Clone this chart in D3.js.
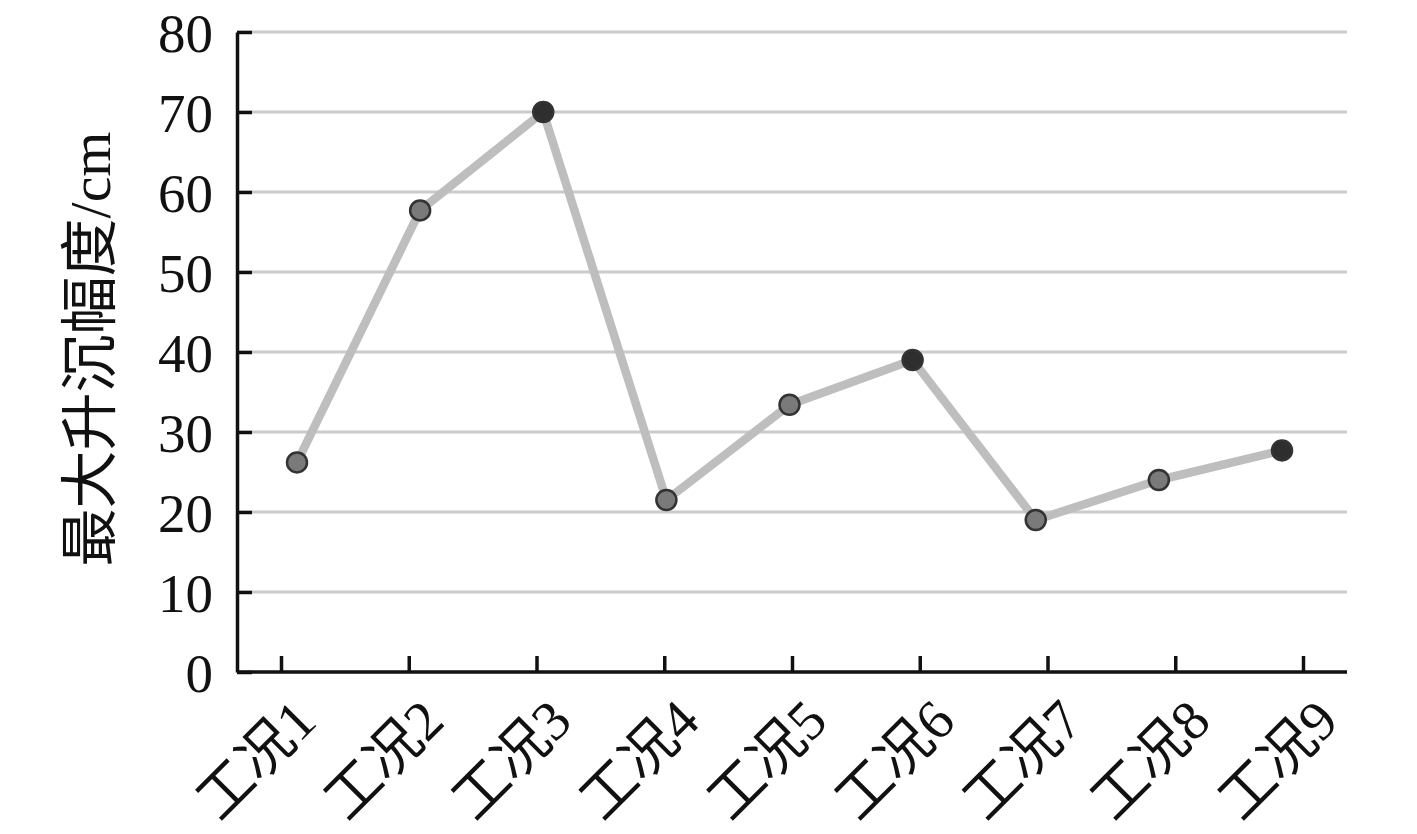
<!DOCTYPE html>
<html>
<head>
<meta charset="utf-8">
<script src="https://cdn.jsdelivr.net/npm/d3@7"></script>
<style>
  body { margin: 0; background: #fff; }
  svg { display: block; }
  .tick-label { font-family: "Liberation Serif", "Times New Roman", "Noto Sans CJK SC", serif; fill: #111; }
</style>
</head>
<body>
<script>
// data
var cases = ["工况1", "工况2", "工况3", "工况4", "工况5", "工况6", "工况7", "工况8", "工况9"];
var maxDisp = [26.2, 57.7, 70.0, 21.5, 33.4, 39.0, 19.0, 24.0, 27.7];
var darkDots = ["工况3", "工况6", "工况9"]; // these markers are filled dark
var yTicks = [0, 10, 20, 30, 40, 50, 60, 70, 80];

var W = 1417, H = 834;
var margin = {top: 32, right: 70, bottom: 162, left: 237}
, width = W - margin.left - margin.right
, height = H - margin.top - margin.bottom;

var svg = d3.select("body").append("svg")
  .attr("width", W)
  .attr("height", H);

var g = svg.append("g")
  .attr("transform", "translate(" + margin.left + "," + margin.top + ")");

var y = d3.scaleLinear().domain([0, 80]).range([height, 0]);

// the category ticks and the markers are not quite on the same spacing in the original
var xTick = d3.scalePoint().domain(cases).range([44, 1066]);
var xDot = d3.scalePoint().domain(cases).range([60, 1045]);

// grid lines
g.selectAll(".grid")
  .data(yTicks.filter(function(d) { return d > 0; }))
  .enter().append("line")
  .attr("class", "grid")
  .attr("x1", 0)
  .attr("x2", width)
  .attr("y1", function(d) { return y(d); })
  .attr("y2", function(d) { return y(d); })
  .attr("stroke", "#cbcbcb")
  .attr("stroke-width", 3);

// y axis
var yAxis = g.append("g")
  .call(d3.axisLeft(y).tickValues(yTicks).tickSize(-15).tickPadding(24).tickSizeOuter(0));
yAxis.select(".domain").attr("stroke", "#111").attr("stroke-width", 3.5);
yAxis.selectAll(".tick line").attr("stroke", "#111").attr("stroke-width", 3.5);
yAxis.selectAll(".tick text")
  .attr("class", "tick-label")
  .style("font-size", "55px")
  .attr("dy", "0.35em");

// x axis
var xAxis = g.append("g")
  .attr("transform", "translate(0," + height + ")")
  .call(d3.axisBottom(xTick).tickSize(-16).tickSizeOuter(0).tickFormat(""));
xAxis.select(".domain").attr("d", "M0,0H" + width).attr("stroke", "#111").attr("stroke-width", 3.5);
xAxis.selectAll(".tick line").attr("stroke", "#111").attr("stroke-width", 3.5);

g.selectAll(".xlab")
  .data(cases)
  .enter().append("text")
  .attr("class", "tick-label")
  .attr("text-anchor", "end")
  .style("font-size", "56px")
  .attr("transform", function(d) {
    return "translate(" + (xTick(d) + 10) + "," + (height + 24) + ") rotate(-45)";
  })
  .attr("dy", "0.7em")
  .text(function(d) { return d; });

// line
var line = d3.line()
  .x(function(d, i) { return xDot(cases[i]); })
  .y(function(d) { return y(d); });

g.append("path")
  .datum(maxDisp)
  .attr("d", line)
  .attr("fill", "none")
  .attr("stroke", "#bebebe")
  .attr("stroke-width", 8.5)
  .attr("stroke-linejoin", "round");

g.selectAll(".dot")
  .data(maxDisp)
  .enter().append("circle")
  .attr("class", "dot")
  .attr("cx", function(d, i) { return xDot(cases[i]); })
  .attr("cy", function(d) { return y(d); })
  .attr("r", 10)
  .attr("fill", function(d, i) { return darkDots.indexOf(cases[i]) >= 0 ? "#2e2e2e" : "#7a7a7a"; })
  .attr("stroke", "#333")
  .attr("stroke-width", 2.5);

// y axis title
svg.append("text")
  .attr("class", "tick-label")
  .attr("transform", "translate(90," + (margin.top + height / 2 - 3) + ") rotate(-90)")
  .attr("text-anchor", "middle")
  .attr("dy", "0.35em")
  .style("font-size", "58px")
  .text("最大升沉幅度/cm");
</script>
</body>
</html>
